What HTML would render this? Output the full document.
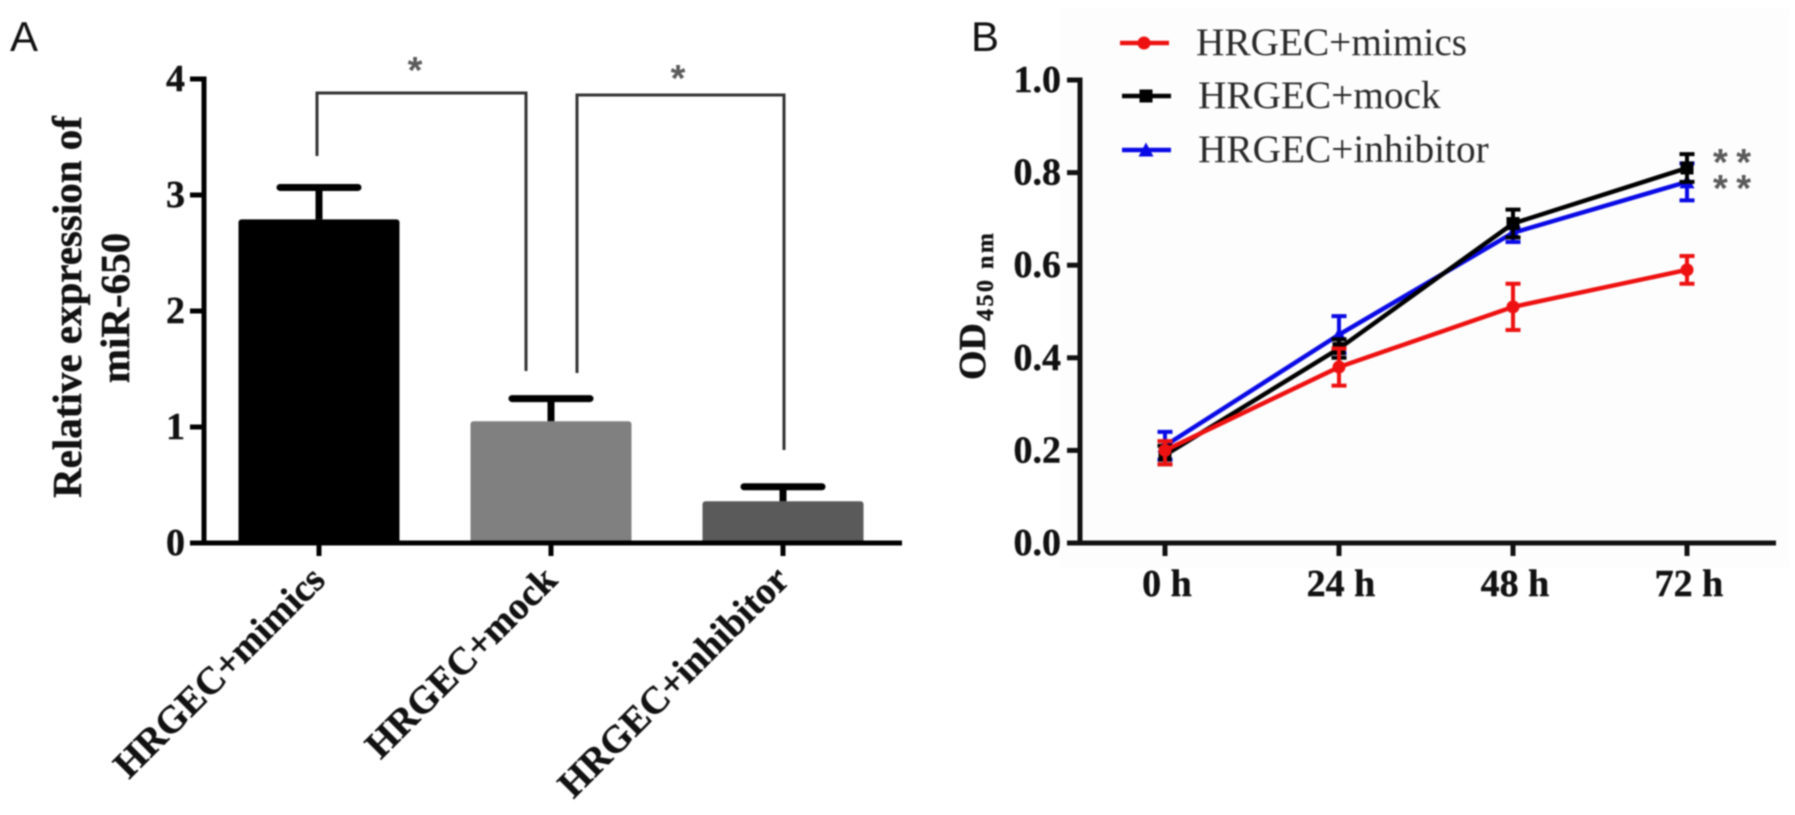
<!DOCTYPE html>
<html lang="en">
<head>
<meta charset="utf-8">
<title>miR-650 expression and cell proliferation</title>
<style>
html,body{margin:0;padding:0;background:#fff;width:1795px;height:815px;overflow:hidden}
svg{display:block;filter:blur(0.7px)}
text{font-family:"Liberation Serif",serif}
.tick{font-weight:bold;font-size:38px;fill:#111;stroke:#111;stroke-width:0.4px}
.rot{font-weight:bold;font-size:38.4px;fill:#111;stroke:#111;stroke-width:0.4px}
.title{font-weight:bold;font-size:41px;fill:#111;stroke:#111;stroke-width:0.4px}
.letter{font-family:"Liberation Sans",sans-serif;font-size:42px;fill:#111}
.legend{font-size:39.3px;fill:#2a2a2a}
.star{font-family:"Liberation Sans",sans-serif;font-weight:bold;font-size:38px;fill:#5a5a5a}
</style>
</head>
<body>
<svg id="chart" xmlns="http://www.w3.org/2000/svg" width="1795" height="815" viewBox="0 0 1795 815">
  <rect x="1060" y="8" width="730" height="560" fill="#fdfdfd"/>
  <text class="letter" x="10" y="51">A</text>
  <text class="letter" x="971" y="51">B</text>
  <text class="title" transform="translate(81,307) rotate(-90)" text-anchor="middle">Relative expression of</text>
  <text class="title" transform="translate(129,308) rotate(-90)" text-anchor="middle">miR-650</text>
  <text transform="translate(985,380) rotate(-90)" font-weight="bold" fill="#111" stroke="#111" stroke-width="0.4" font-size="38">OD<tspan dy="8" dx="2" font-size="24" letter-spacing="2.5">450 nm</tspan></text>
</svg>
<script>
// Panel A data
const barCategories = ['HRGEC+mimics', 'HRGEC+mock', 'HRGEC+inhibitor'];
const barValues = [2.79, 1.05, 0.36];
const barErrors = [0.275, 0.195, 0.125];
const barColors = ['#000000', '#808080', '#5a5a5a'];
const barTicks = [0, 1, 2, 3, 4];

// Panel B data
const timeLabels = ['0 h', '24 h', '48 h', '72 h'];
const lineTicks = ['0.0', '0.2', '0.4', '0.6', '0.8', '1.0'];
const mimicsValues = [0.20, 0.38, 0.51, 0.59];
const mimicsUpper = [0.22, 0.42, 0.56, 0.62];
const mimicsLower = [0.17, 0.34, 0.46, 0.56];
const mockValues = [0.19, 0.42, 0.69, 0.81];
const mockUpper = [0.21, 0.44, 0.72, 0.84];
const mockLower = [0.17, 0.40, 0.66, 0.78];
const inhibitorValues = [0.21, 0.45, 0.67, 0.78];
const inhibitorUpper = [0.24, 0.49, 0.68, 0.82];
const inhibitorLower = [0.18, 0.41, 0.65, 0.74];

const NS = 'http://www.w3.org/2000/svg';
const svg = document.getElementById('chart');

function make(tag, attrs, text) {
  const e = document.createElementNS(NS, tag);
  for (const k in attrs) e.setAttribute(k, attrs[k]);
  if (text !== undefined) e.textContent = text;
  svg.appendChild(e);
  return e;
}

// ---------- Panel A axes ----------
const ax0 = 204, axEnd = 902, ay0 = 543, ayPerUnit = 116;
const barStep = 232, barFirst = 319, barWidth = 161;
function yA(v) { return ay0 - v * ayPerUnit; }
function xA(i) { return barFirst + i * barStep; }

barValues.forEach(function (v, i) {
  const bar = make('rect', { x: xA(i) - barWidth / 2, y: yA(v), width: barWidth, height: ay0 - yA(v), rx: 3, fill: barColors[i] });
  
  
  const stem = make('line', { x1: xA(i), x2: xA(i), y1: yA(v), y2: yA(v + barErrors[i]), stroke: '#000', 'stroke-width': 7 });
  
  
  const cap = make('line', { x1: xA(i) - 39, x2: xA(i) + 39, y1: yA(v + barErrors[i]), y2: yA(v + barErrors[i]), stroke: '#000', 'stroke-width': 7, 'stroke-linecap': 'round' });
  
  
});

const aYAxis = make('line', { x1: ax0, x2: ax0, y1: yA(4) - 2.5, y2: ay0 + 2.5, stroke: '#000', 'stroke-width': 5 });


const aXAxis = make('line', { x1: 190, x2: axEnd, y1: ay0, y2: ay0, stroke: '#000', 'stroke-width': 5 });



barTicks.forEach(function (t) {
  const tk = make('line', { x1: 190, x2: ax0, y1: yA(t), y2: yA(t), stroke: '#000', 'stroke-width': 5 });
  
  
  const lb = make('text', { class: 'tick', x: 185, y: yA(t) + 12, 'text-anchor': 'end' }, String(t));
  
  
});

barCategories.forEach(function (c, i) {
  const tk = make('line', { x1: xA(i), x2: xA(i), y1: ay0, y2: 556, stroke: '#000', 'stroke-width': 5 });
  
  
  const lb = make('text', { class: 'rot', 'text-anchor': 'end', transform: 'translate(' + (xA(i) + 8) + ',582) rotate(-45)' }, c);
  
  
});

const bracket1 = make('path', { d: 'M317 156V93H526V371', fill: 'none', stroke: '#333', 'stroke-width': 3 });


const bracket2 = make('path', { d: 'M577 373V95H784V450', fill: 'none', stroke: '#333', 'stroke-width': 3 });


const star1 = make('text', { class: 'star', x: 415, y: 83, 'text-anchor': 'middle' }, '*');


const star2 = make('text', { class: 'star', x: 678, y: 91, 'text-anchor': 'middle' }, '*');



// ---------- Panel B axes ----------
const bx0 = 1080, bxEnd = 1776, by0 = 543, byPerUnit = 463;
const timeFirst = 1165, timeStep = 174;
function yB(v) { return by0 - v * byPerUnit; }
function xB(i) { return timeFirst + i * timeStep; }

const bYAxis = make('line', { x1: bx0, x2: bx0, y1: yB(1) - 2.5, y2: by0 + 2.5, stroke: '#111', 'stroke-width': 5 });


const bXAxis = make('line', { x1: 1067, x2: bxEnd, y1: by0, y2: by0, stroke: '#111', 'stroke-width': 5 });



lineTicks.forEach(function (t) {
  const v = parseFloat(t);
  const tk = make('line', { x1: 1067, x2: bx0, y1: yB(v), y2: yB(v), stroke: '#111', 'stroke-width': 5 });
  
  
  const lb = make('text', { class: 'tick', x: 1061, y: yB(v) + 12, 'text-anchor': 'end' }, t);
  
  
});

timeLabels.forEach(function (t, i) {
  const tk = make('line', { x1: xB(i), x2: xB(i), y1: by0, y2: 556, stroke: '#111', 'stroke-width': 5 });
  
  
  const lb = make('text', { class: 'tick', x: xB(i) + 2, y: 596, 'text-anchor': 'middle' }, t);
  
  
});

function marker(kind, x, y, color, size) {
  if (kind === 'circle') return make('circle', { cx: x, cy: y, r: size / 2, fill: color });
  if (kind === 'square') return make('rect', { x: x - size / 2, y: y - size / 2, width: size, height: size, fill: color });
  return make('polygon', { points: x + ',' + (y - size / 2 - 1) + ' ' + (x + size / 2 + 1) + ',' + (y + size / 2) + ' ' + (x - size / 2 - 1) + ',' + (y + size / 2), fill: color });
}

function drawSeries(slug, vals, up, low, color, kind) {
  const pts = vals.map(function (v, i) { return xB(i) + ',' + yB(v); }).join(' ');
  const line = make('polyline', { points: pts, fill: 'none', stroke: color, 'stroke-width': 4.5 });
  
  
  vals.forEach(function (v, i) {
    const d = 'M' + xB(i) + ' ' + yB(up[i]) + 'V' + yB(low[i]) +
      'M' + (xB(i) - 7.5) + ' ' + yB(up[i]) + 'H' + (xB(i) + 7.5) +
      'M' + (xB(i) - 7.5) + ' ' + yB(low[i]) + 'H' + (xB(i) + 7.5);
    const err = make('path', { d: d, fill: 'none', stroke: color, 'stroke-width': 4 });
    
    
    const m = marker(kind, xB(i), yB(v), color, 13);
    
    
  });
}

drawSeries('inhibitor', inhibitorValues, inhibitorUpper, inhibitorLower, '#0a0ae6', 'triangle');
drawSeries('mock', mockValues, mockUpper, mockLower, '#000000', 'square');
drawSeries('mimics', mimicsValues, mimicsUpper, mimicsLower, '#ee1111', 'circle');

// ---------- Legend ----------
const legendNames = ['HRGEC+mimics', 'HRGEC+mock', 'HRGEC+inhibitor'];
const legendColors = ['#ee1111', '#000000', '#0a0ae6'];
const legendKinds = ['circle', 'square', 'triangle'];
const legendRows = [43, 96, 150];
const legendOffsets = [0, 2, 2];
legendNames.forEach(function (n, i) {
  const x = 1120 + legendOffsets[i], y = legendRows[i];
  const ln = make('line', { x1: x, x2: x + 49, y1: y, y2: y, stroke: legendColors[i], 'stroke-width': 4.5 });
  
  
  const mk = marker(legendKinds[i], x + 24, y, legendColors[i], 13);
  
  
  const tx = make('text', { class: 'legend', x: 1196 + legendOffsets[i], y: y + 12 }, n);
  
  
});

const starsB1 = make('text', { class: 'star', x: 1713, y: 175, 'letter-spacing': '8.5' }, '**');


const starsB2 = make('text', { class: 'star', x: 1713, y: 201, 'letter-spacing': '8.5' }, '**');


</script>
</body>
</html>
